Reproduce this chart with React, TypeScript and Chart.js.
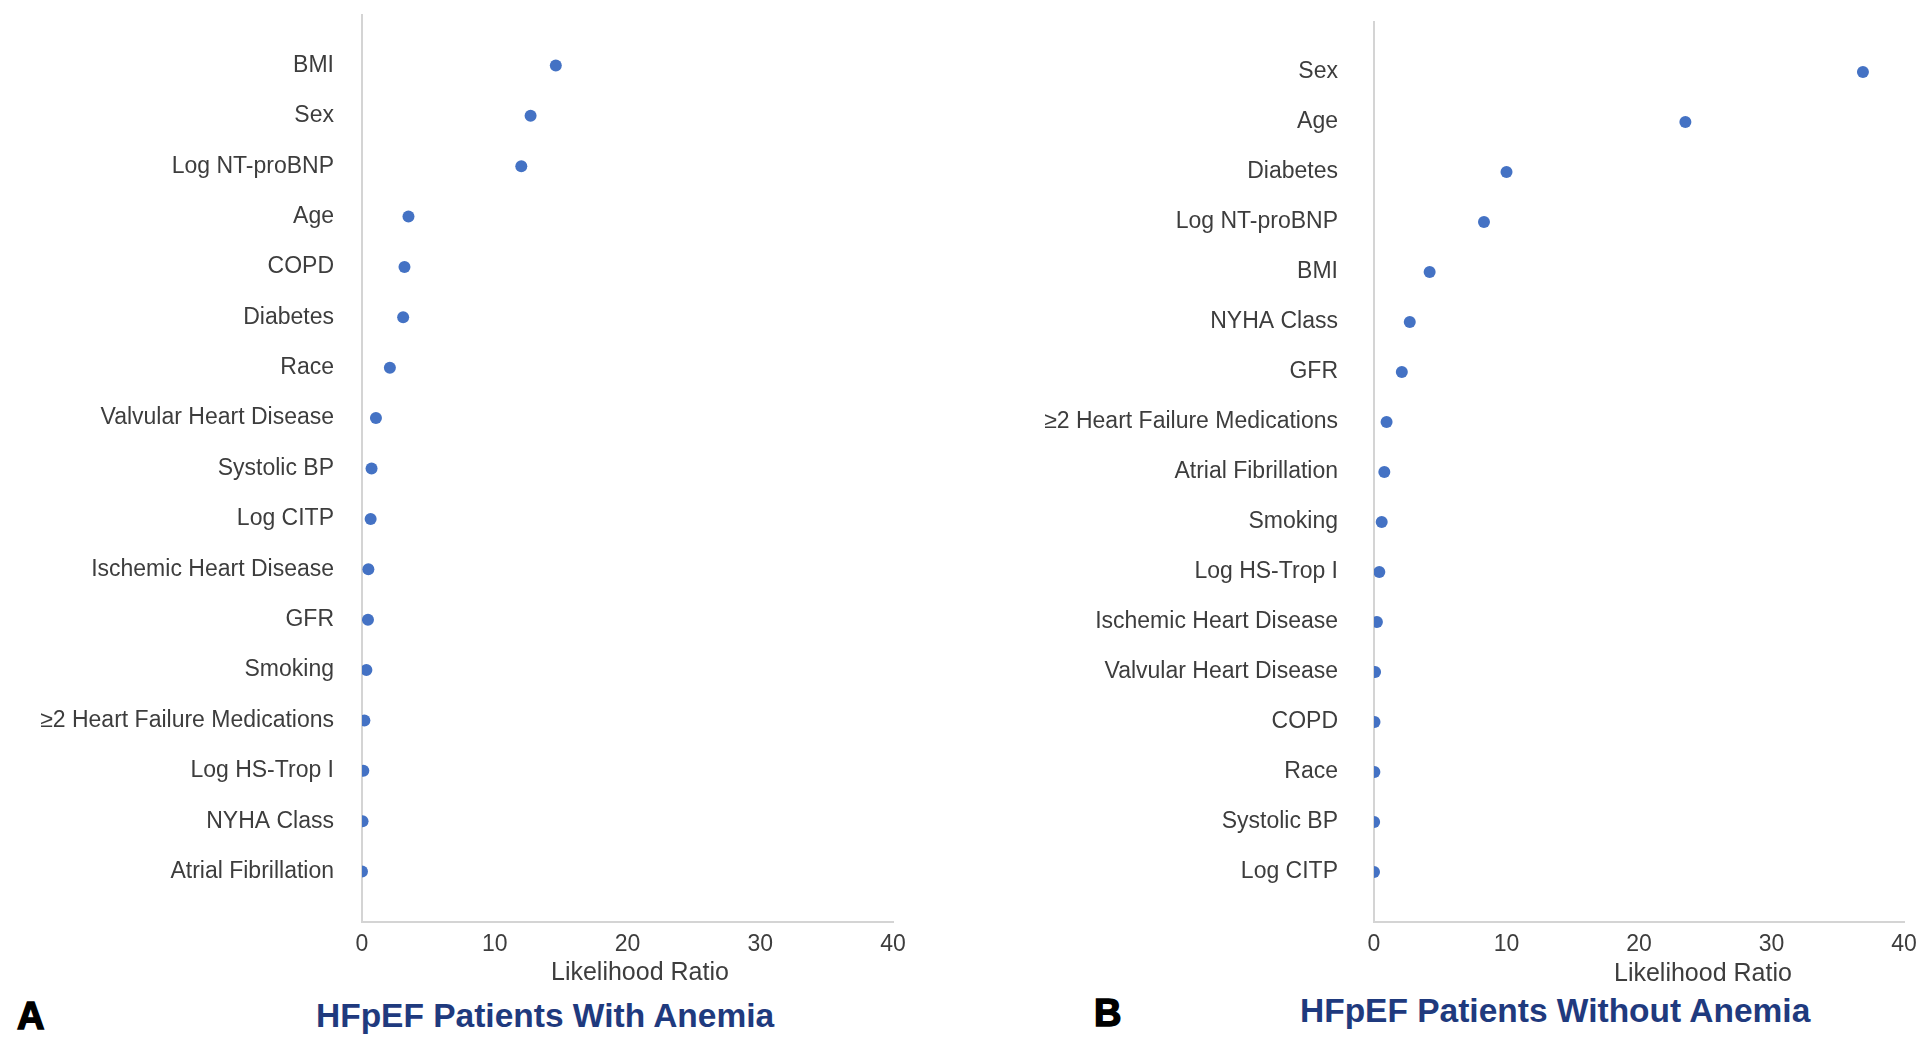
import React, { useEffect, useRef } from "react";
import { Chart, registerables } from "chart.js";

Chart.register(...registerables);

// ---- Data ----
const leftCategories = [
  "BMI",
  "Sex",
  "Log NT-proBNP",
  "Age",
  "COPD",
  "Diabetes",
  "Race",
  "Valvular Heart Disease",
  "Systolic BP",
  "Log CITP",
  "Ischemic Heart Disease",
  "GFR",
  "Smoking",
  "≥2 Heart Failure Medications",
  "Log HS-Trop I",
  "NYHA Class",
  "Atrial Fibrillation",
];
const leftValues = [14.6, 12.7, 12.0, 3.5, 3.2, 3.1, 2.1, 1.05, 0.72, 0.65, 0.48, 0.45, 0.33, 0.18, 0.1, 0.04, 0.0];

const rightCategories = [
  "Sex",
  "Age",
  "Diabetes",
  "Log NT-proBNP",
  "BMI",
  "NYHA Class",
  "GFR",
  "≥2 Heart Failure Medications",
  "Atrial Fibrillation",
  "Smoking",
  "Log HS-Trop I",
  "Ischemic Heart Disease",
  "Valvular Heart Disease",
  "COPD",
  "Race",
  "Systolic BP",
  "Log CITP",
];
const rightValues = [36.9, 23.5, 10.0, 8.3, 4.2, 2.7, 2.1, 0.95, 0.78, 0.58, 0.4, 0.22, 0.08, 0.04, 0.03, 0.01, 0.0];

const xTickValues = [0, 10, 20, 30, 40];
const xAxisTitle = "Likelihood Ratio";
const leftTitle = "HFpEF Patients With Anemia";
const rightTitle = "HFpEF Patients Without Anemia";

const FONT = "'Liberation Sans', Arial, Helvetica, sans-serif";
const TEXT_COLOR = "#3d3d3d";
const AXIS_COLOR = "#d4d4d4";
const DOT_COLOR = "#4472C4";
const TITLE_COLOR = "#1f3a7e";

type PanelProps = {
  categories: string[];
  values: number[];
  left: number;
  width: number;
  height: number;
  yAxisWidth: number;
  padTop: number;
  padRight: number;
  labelPad: number;
  xAxisHeight: number;
};

function Panel(p: PanelProps) {
  const ref = useRef<HTMLCanvasElement | null>(null);
  useEffect(() => {
    if (!ref.current) return;
    const chart = new Chart(ref.current, {
      type: "scatter",
      data: {
        datasets: [
          {
            data: p.values.map((v, i) => ({ x: v, y: i })),
            backgroundColor: DOT_COLOR,
            borderColor: DOT_COLOR,
            borderWidth: 0,
            pointRadius: 6,
            pointHoverRadius: 6,
          },
        ],
      },
      options: {
        animation: false,
        responsive: false,
        maintainAspectRatio: false,
        events: [],
        layout: { padding: { top: p.padTop, right: p.padRight, bottom: 0, left: 0 } },
        plugins: { legend: { display: false }, tooltip: { enabled: false } },
        scales: {
          x: {
            type: "linear",
            position: "bottom",
            min: 0,
            max: 40,
            afterBuildTicks: (s: any) => {
              s.ticks = xTickValues.map((v) => ({ value: v }));
            },
            afterFit: (s: any) => {
              s.height = p.xAxisHeight;
              s.paddingLeft = 0;
              s.paddingRight = 0;
            },
            grid: { display: false, drawTicks: false },
            border: { display: true, color: AXIS_COLOR, width: 2 },
            ticks: {
              autoSkip: false,
              maxRotation: 0,
              padding: 9,
              color: TEXT_COLOR,
              font: { family: FONT, size: 23 },
            },
          },
          y: {
            type: "linear",
            reverse: true,
            min: -1,
            max: 17,
            afterBuildTicks: (s: any) => {
              s.ticks = p.categories.map((_, i) => ({ value: i }));
            },
            afterFit: (s: any) => {
              s.width = p.yAxisWidth;
              s.paddingTop = 0;
              s.paddingBottom = 0;
            },
            grid: { display: false, drawTicks: false },
            border: { display: true, color: AXIS_COLOR, width: 2 },
            ticks: {
              autoSkip: false,
              padding: p.labelPad,
              color: TEXT_COLOR,
              font: { family: FONT, size: 23 },
              callback: (v: any) => p.categories[v as number] ?? "",
            },
          },
        },
      },
    } as any);
    return () => chart.destroy();
  }, []);
  return (
    <canvas
      ref={ref}
      width={p.width}
      height={p.height}
      style={{ position: "absolute", left: p.left, top: 0, width: p.width, height: p.height }}
    />
  );
}

const textBase: React.CSSProperties = {
  position: "absolute",
  whiteSpace: "nowrap",
  fontFamily: FONT,
  margin: 0,
};

export default function App() {
  return (
    <div
      style={{
        position: "absolute",
        left: 0,
        top: 0,
        width: 1920,
        height: 1049,
        background: "#ffffff",
        overflow: "hidden",
      }}
    >
      <Panel
        categories={leftCategories}
        values={leftValues}
        left={0}
        width={930}
        height={986}
        yAxisWidth={362}
        padTop={15}
        padRight={37}
        labelPad={28}
        xAxisHeight={64}
      />
      <Panel
        categories={rightCategories}
        values={rightValues}
        left={960}
        width={960}
        height={986}
        yAxisWidth={414}
        padTop={22}
        padRight={16}
        labelPad={36}
        xAxisHeight={64}
      />
      <div style={{ ...textBase, left: 551, top: 959, fontSize: 25, lineHeight: "25px", color: TEXT_COLOR }}>
        {xAxisTitle}
      </div>
      <div style={{ ...textBase, left: 1614, top: 960, fontSize: 25, lineHeight: "25px", color: TEXT_COLOR }}>
        {xAxisTitle}
      </div>
      <div
        style={{
          ...textBase,
          left: 17,
          top: 997,
          fontSize: 38,
          lineHeight: "38px",
          fontWeight: 700,
          color: "#000",
          WebkitTextStroke: "1.5px #000",
        }}
      >
        A
      </div>
      <div
        style={{
          ...textBase,
          left: 1094,
          top: 994,
          fontSize: 38,
          lineHeight: "38px",
          fontWeight: 700,
          color: "#000",
          WebkitTextStroke: "1.5px #000",
        }}
      >
        B
      </div>
      <div style={{ ...textBase, left: 316, top: 999, fontSize: 33.5, lineHeight: "34px", fontWeight: 700, color: TITLE_COLOR }}>
        {leftTitle}
      </div>
      <div style={{ ...textBase, left: 1300, top: 994, fontSize: 33.5, lineHeight: "34px", fontWeight: 700, color: TITLE_COLOR }}>
        {rightTitle}
      </div>
    </div>
  );
}
